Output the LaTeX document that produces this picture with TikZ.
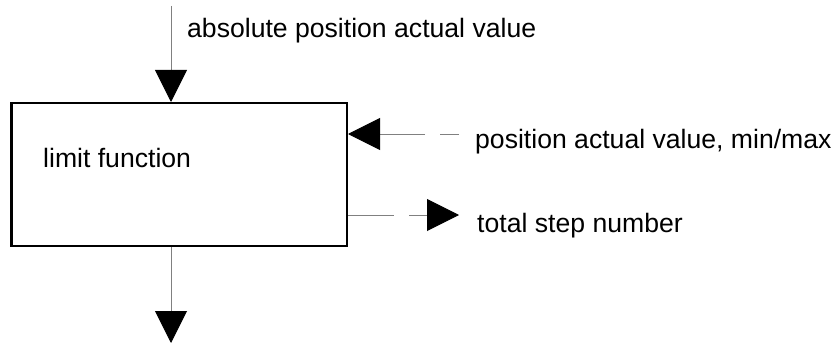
\documentclass[tikz,border=0pt]{standalone}
\usepackage{fontspec}
\setmainfont{Liberation Sans}
\usetikzlibrary{arrows.meta}
\begin{document}
\begin{tikzpicture}[x=1pt,y=-1pt,font=\fontsize{26.6}{30}\selectfont,
    lbl/.style={anchor=base west,inner sep=0pt},
    flow/.style={draw=gray,line width=1pt,-{Triangle[length=32pt,width=32pt,color=black,fill=black]}}]
    \useasboundingbox (0,0) rectangle (836,345);
    \node[draw,line width=2.5pt,minimum width=335.5pt,minimum height=142.5pt,inner sep=0pt] (lim) at (179,174.5) {};
    \node[lbl] (limtxt) at (43,167) {limit function};
    \coordinate (abs) at (171,6);
    \coordinate (out) at (171,343);
    \coordinate (minmax) at (459,134);
    \coordinate (steps) at (459,215);
    \draw[flow] (abs) -- (abs |- lim.north);
    \draw[flow] (out |- lim.south) -- (out);
    \draw[flow,dash pattern=on 19pt off 15pt on 100pt] (minmax) -- (minmax -| lim.east);
    \draw[flow,dash pattern=on 46pt off 15pt on 100pt] (steps -| lim.east) -- (steps);
    \node[lbl] (abstxt) at (187,38) {absolute position actual value};
    \node[lbl] (minmaxtxt) at (475,148) {position actual value, min/max};
    \node[lbl] (stepstxt) at (477,232) {total step number};
  \end{tikzpicture}
\end{document}
